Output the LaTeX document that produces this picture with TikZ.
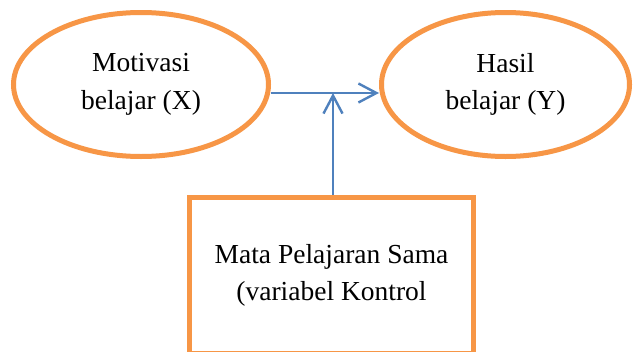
\documentclass[tikz,border=0pt]{standalone}
\usepackage{fontspec}
\setmainfont{Liberation Serif}
\usetikzlibrary{shapes.geometric,arrows.meta}
\definecolor{orng}{HTML}{F79646}
\definecolor{blu}{HTML}{4F81BD}
\begin{document}
\begin{tikzpicture}[x=1pt,y=-1pt,
  txt/.style={align=center,font=\fontsize{27.5}{37.5}\selectfont,text=black},
  oval/.style={ellipse,draw=orng,line width=5pt,inner sep=0pt,txt},
  boxnode/.style={rectangle,draw=orng,line width=5pt,inner sep=0pt,txt},
  conn/.style={draw=blu,line width=2.4pt,-{Straight Barb[length=18pt,width=19pt,line width=2.4pt]}}]
\useasboundingbox (0,0) rectangle (634,351);
\fill[white] (0,0) rectangle (634,351);
\node[oval,minimum width=255pt,minimum height=144pt] (x) at (141,84.5) {Motivasi\\belajar (X)};
\node[oval,minimum width=248pt,minimum height=144pt] (y) at (505.5,84.5) {Hasil\\belajar (Y)};
\node[boxnode,minimum width=284pt,minimum height=156pt] (k) at (331.5,275.5) {Mata Pelajaran Sama\\(variabel Kontrol};
\coordinate (j) at (333,93);
\draw[conn] (x.east |- j) -- (y.west |- j);
\draw[conn] (k.north -| j) -- (j);
\end{tikzpicture}
\end{document}
